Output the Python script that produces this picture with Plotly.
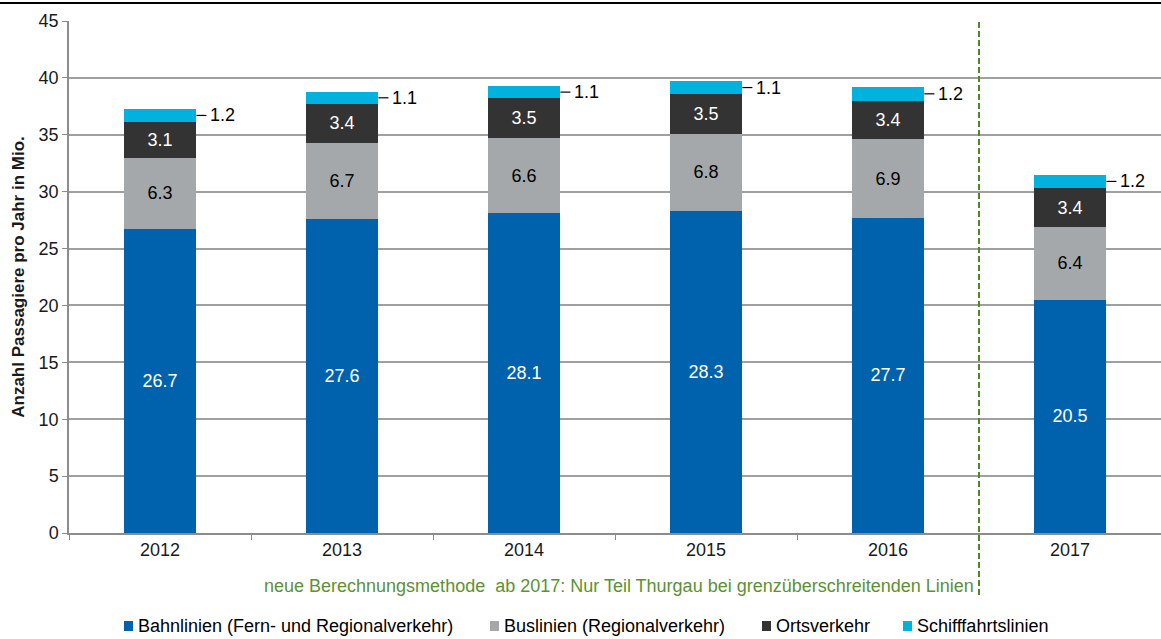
import plotly.graph_objects as go

years = ["2012", "2013", "2014", "2015", "2016", "2017"]
bahn = [26.7, 27.6, 28.1, 28.3, 27.7, 20.5]
bus = [6.3, 6.7, 6.6, 6.8, 6.9, 6.4]
orts = [3.1, 3.4, 3.5, 3.5, 3.4, 3.4]
schiff = [1.2, 1.1, 1.1, 1.1, 1.2, 1.2]

series_names = [
    "Bahnlinien (Fern- und Regionalverkehr)",
    "Buslinien (Regionalverkehr)",
    "Ortsverkehr",
    "Schifffahrtslinien",
]
colors = ["#0062AD", "#A5A8AB", "#333333", "#00B2DD"]
label_colors = ["white", "black", "white", None]

FONT = "Liberation Sans, Arial, sans-serif"
FS = 18

fig = go.Figure()
for vals, name, col, lcol in zip([bahn, bus, orts, schiff], series_names, colors, label_colors):
    fig.add_trace(go.Bar(
        x=years, y=vals, name=name,
        marker=dict(color=col, line=dict(width=0)),
        text=[f"{v:.1f}" for v in vals] if lcol else None,
        textposition="inside" if lcol else "none",
        insidetextanchor="middle",
        textangle=0,
        constraintext="none",
        textfont=dict(family=FONT, size=FS, color=lcol or "black"),
        showlegend=False,
        hoverinfo="skip",
    ))

shapes = []
annotations = []

# Outside labels for the top segment with short leader lines
for i, v in enumerate(schiff):
    mid = bahn[i] + bus[i] + orts[i] + v / 2
    shapes.append(dict(type="line", xref="x", yref="y",
                       x0=i + 0.2, x1=i + 0.2 + 10 / 182, y0=mid, y1=mid,
                       line=dict(color="black", width=1.2)))
    annotations.append(dict(x=i + 0.2 + 12 / 182, y=mid, xref="x", yref="y",
                            text=f"{v:.1f}", showarrow=False, xanchor="left",
                            yanchor="middle",
                            font=dict(family=FONT, size=FS, color="black")))

# Methodology change separator
shapes.append(dict(type="line", xref="x", yref="paper", x0=4.5, x1=4.5,
                   y0=-0.121, y1=1.0,
                   line=dict(color="#4E8A22", width=2, dash="6px,3px")))
annotations.append(dict(
    x=(976 - 69) / 1092, y=(533 - 586) / 512, xref="paper", yref="paper",
    text="neue Berechnungsmethode&nbsp; ab 2017: Nur Teil Thurgau bei grenzüberschreitenden Linien",
    showarrow=False, xanchor="right", yanchor="middle",
    font=dict(family=FONT, size=FS, color="#5A9234")))

# Top rule
shapes.append(dict(type="line", xref="paper", yref="paper",
                   x0=-69 / 1092, x1=1.0, y0=(533 - 3) / 512, y1=(533 - 3) / 512,
                   line=dict(color="black", width=2)))

# Legend row
legend_x = [124, 490, 762, 903]
ly = 626
for px, name, col in zip(legend_x, series_names, colors):
    shapes.append(dict(type="rect", xref="paper", yref="paper",
                       x0=(px - 69) / 1092, x1=(px + 9 - 69) / 1092,
                       y0=(533 - (ly + 5)) / 512, y1=(533 - (ly - 5)) / 512,
                       fillcolor=col, line=dict(width=0)))
    annotations.append(dict(x=(px + 12 - 69) / 1092, y=(533 - ly) / 512,
                            xref="paper", yref="paper", text=name,
                            showarrow=False, xanchor="left", yanchor="middle",
                            font=dict(family=FONT, size=FS, color="black")))

fig.update_layout(
    barmode="stack",
    bargap=0.6,
    width=1161, height=639,
    margin=dict(l=69, r=0, t=21, b=106),
    plot_bgcolor="white", paper_bgcolor="white",
    showlegend=False,
    shapes=shapes,
    annotations=annotations,
    xaxis=dict(
        type="category",
        showline=True, linecolor="#8C8C8C", linewidth=1.5,
        ticks="outside", tickson="boundaries", ticklen=5, tickcolor="#8C8C8C",
        tickfont=dict(family=FONT, size=FS, color="#1A1A1A"),
        showgrid=False,
    ),
    yaxis=dict(
        range=[0, 45], dtick=5,
        showline=True, linecolor="#8C8C8C", linewidth=1.5,
        ticks="outside", ticklen=5, tickcolor="#8C8C8C",
        gridcolor="#A0A0A0", gridwidth=1.5,
        zeroline=False,
        tickfont=dict(family=FONT, size=FS, color="#1A1A1A"),
        title=dict(text="<b>Anzahl Passagiere pro Jahr in Mio.</b>",
                   font=dict(family=FONT, size=17, color="#1A1A1A"), standoff=10),
    ),
)

fig.write_html("out.html")
